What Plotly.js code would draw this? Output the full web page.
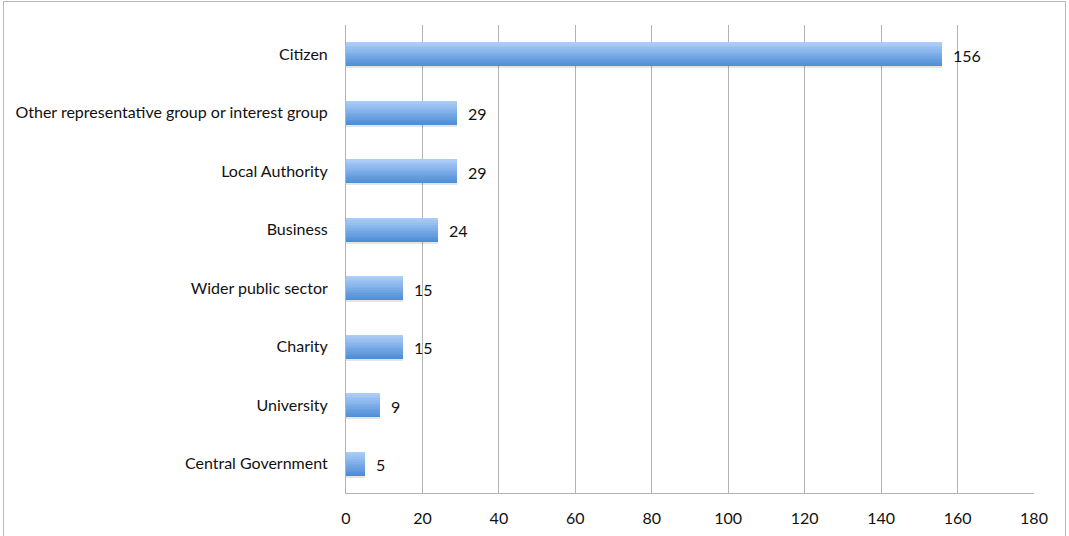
<!DOCTYPE html>
<html>
<head>
<meta charset="utf-8">
<script src="https://cdn.plot.ly/plotly-3.0.1.min.js"></script>
<style>
  html, body { margin: 0; padding: 0; background: #fff; }
  #wrap { position: relative; width: 1069px; height: 536px; overflow: hidden; }
  #chart { width: 1069px; height: 536px; }
  #frame { position: absolute; left: 3px; top: 1px; width: 1061px; height: 560px;
           border: 1px solid #b8b8b8; pointer-events: none; }
</style>
</head>
<body>
<div id="wrap">
  <div id="chart"></div>
  <div id="frame"></div>
</div>
<script>
// Data (top to bottom as shown)
const categories = [
  "Citizen",
  "Other representative group or interest group",
  "Local Authority",
  "Business",
  "Wider public sector",
  "Charity",
  "University",
  "Central Government"
];
const counts = [156, 29, 29, 24, 15, 15, 9, 5];
const tickValues = [0, 20, 40, 60, 80, 100, 120, 140, 160, 180];

// Gradient bars built from thin overlaid slices
const barWidth = 0.41;
const nSlices = 14;
const topColor = [172, 205, 248];
const botColor = [78, 142, 214];
const traces = [];
// soft shadow
traces.push({
  type: 'bar', orientation: 'h', x: counts, y: categories,
  width: barWidth, offset: -barWidth / 2 + 0.03,
  marker: { color: 'rgba(0,0,0,0.10)', line: { width: 0 } },
  hoverinfo: 'skip', showlegend: false
});
for (let i = 0; i < nSlices; i++) {
  const t = i / (nSlices - 1);
  const c = topColor.map((v, k) => Math.round(v + (botColor[k] - v) * t));
  const w = barWidth / nSlices;
  traces.push({
    type: 'bar', orientation: 'h', x: counts, y: categories,
    width: w * 1.02,
    offset: -barWidth / 2 + i * w,
    marker: { color: `rgb(${c[0]},${c[1]},${c[2]})`, line: { width: 0 } },
    hoverinfo: 'skip', showlegend: false
  });
}

const fontFam = 'Lato, "Open Sans", sans-serif';
const annotations = categories.map((cat, i) => ({
  x: counts[i], y: cat, xref: 'x', yref: 'y', yshift: -1,
  text: String(counts[i]), showarrow: false,
  xanchor: 'left', xshift: 9,
  font: { family: fontFam, size: 16, color: '#111' }
}));

const layout = {
  width: 1069, height: 536,
  margin: { l: 346, r: 35, t: 25, b: 43, pad: 0 },
  paper_bgcolor: '#fff', plot_bgcolor: '#fff',
  barmode: 'overlay',
  bargap: 0,
  font: { family: fontFam, size: 16, color: '#111' },
  xaxis: {
    range: [0, 180], tickvals: tickValues, ticktext: tickValues.map(String),
    showgrid: true, gridcolor: '#b3b3b3', gridwidth: 1,
    zeroline: false, showline: true, linecolor: '#b3b3b3', linewidth: 1,
    ticks: 'outside', ticklen: 11, tickcolor: 'rgba(0,0,0,0)', fixedrange: true,
    tickfont: { size: 16, color: '#111' }
  },
  yaxis: {
    type: 'category', categoryorder: 'array', categoryarray: categories,
    autorange: 'reversed',
    showgrid: false, zeroline: false, showline: true, linecolor: '#b3b3b3', linewidth: 1,
    ticks: 'outside', ticklen: 14, tickcolor: 'rgba(0,0,0,0)',
    tickfont: { size: 16, color: '#111' }, fixedrange: true
  },
  annotations: annotations,
  showlegend: false
};

Plotly.newPlot('chart', traces, layout, { displayModeBar: false, staticPlot: true });
</script>
</body>
</html>
